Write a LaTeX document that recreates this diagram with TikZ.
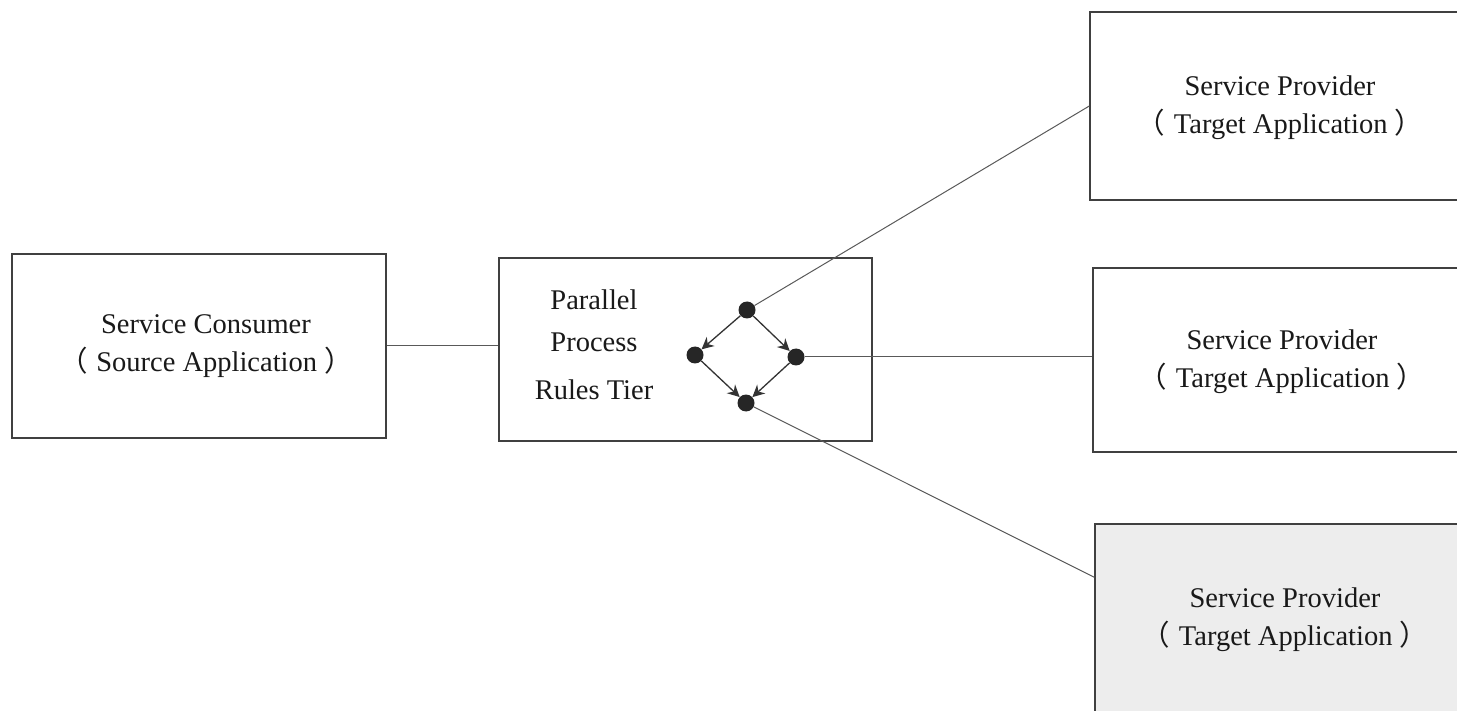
\documentclass[tikz,border=0pt]{standalone}
\usepackage{fontspec}
\setmainfont{Liberation Serif}
\newfontfamily\cjk{Noto Sans CJK SC}
\usetikzlibrary{arrows.meta,calc}
\newcommand{\lp}{{\cjk（}\hspace{0.3em}}
\newcommand{\rp}{\hspace{0.25em}{\cjk）}}
\begin{document}
\begin{tikzpicture}[x=1pt,y=-1pt,
  box/.style={draw=black!75, line width=1.4pt, inner sep=0pt},
  lbl/.style={font=\fontsize{28.5}{38}\selectfont, align=center, text=black!90},
  conn/.style={draw=black!65, line width=1pt},
  dot/.style={circle, fill=black!85, minimum size=17pt, inner sep=0pt},
  arr/.style={draw=black!80, line width=1.3pt, -{Stealth[length=12pt,width=12pt]}}]
\useasboundingbox (0,0) rectangle (1457,711);
\clip (0,0) rectangle (1457,711);
% boxes
\node[box, minimum width=374pt, minimum height=184pt] (cons) at (199,346) {};
\node[box, minimum width=373pt, minimum height=183pt] (mid) at (685.5,349.5) {};
\node[box, minimum width=385pt, minimum height=188pt] (p1) at (1282.5,106) {};
\node[box, minimum width=382pt, minimum height=184pt] (p2) at (1284,360) {};
\node[box, fill=black!7, minimum width=380pt, minimum height=216pt] (p3) at (1285,632) {};
% texts
\node[lbl] (tcons) at (206,346) {Service Consumer\\\lp Source Application\rp};
\node[lbl, font=\fontsize{28.5}{42}\selectfont] (tmid) at (594,345) {Parallel\\Process\\[6pt]Rules Tier};
\node[lbl] (tp1) at (1280,108) {Service Provider\\\lp Target Application\rp};
\node[lbl] (tp2) at (1282,362) {Service Provider\\\lp Target Application\rp};
\node[lbl] (tp3) at (1285,620) {Service Provider\\\lp Target Application\rp};
% diamond
\node[dot] (dt) at (747,310) {};
\node[dot] (dl) at (695,355) {};
\node[dot] (dr) at (796,357) {};
\node[dot] (db) at (746,403) {};
\draw[arr] (dt) -- (dl);
\draw[arr] (dt) -- (dr);
\draw[arr] (dl) -- (db);
\draw[arr] (dr) -- (db);
% connectors
\coordinate (p3in) at ($(p3.north west)+(0,54)$);
\draw[conn] (cons.east) -- (cons.east -| mid.west);
\draw[conn] (dt) -- (p1.west);
\draw[conn] (dr) -- (dr -| p2.west);
\draw[conn] (db) -- (p3in);
\end{tikzpicture}
\end{document}
